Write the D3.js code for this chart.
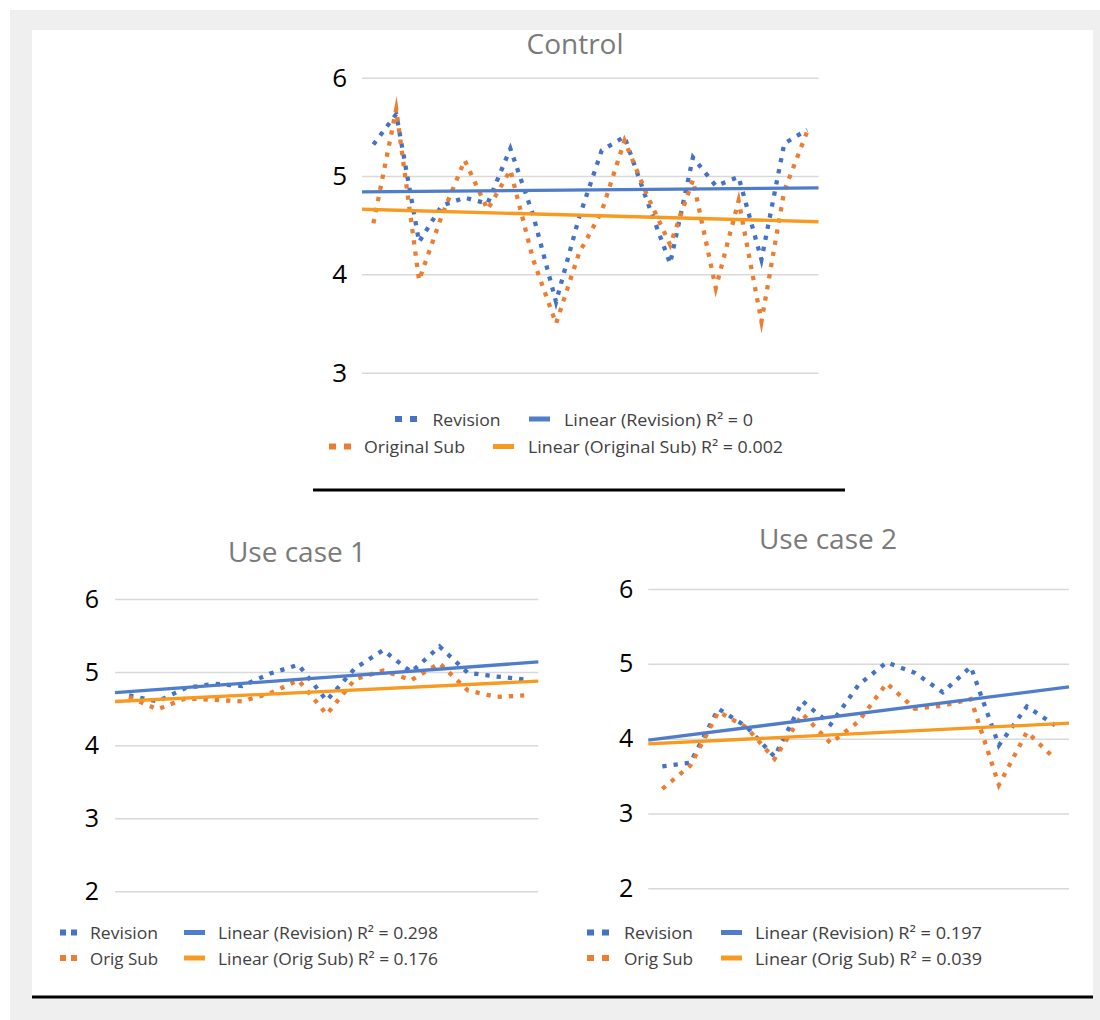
<!DOCTYPE html>
<html><head><meta charset="utf-8">
<script src="https://cdn.jsdelivr.net/npm/d3@7"></script>
<style>
html,body{margin:0;padding:0;background:#fff;}
svg{display:block;}
</style></head><body>
<svg id="c" width="1100" height="1020"></svg>
<script>
// ---- data ----
const controlRevision = [5.32,5.63,4.33,4.70,4.78,4.72,5.28,4.60,3.72,4.57,5.26,5.40,4.74,4.11,5.19,4.90,4.99,4.15,5.33,5.47];
const controlOriginal = [4.52,5.68,3.94,4.60,5.16,4.66,5.06,4.15,3.50,4.21,4.64,5.36,4.80,4.30,4.96,3.86,4.75,3.52,4.85,5.45];
const useCase1Revision = [4.68,4.60,4.78,4.84,4.81,4.98,5.10,4.61,5.05,5.30,5.00,5.35,4.99,4.94,4.90];
const useCase1Original = [4.66,4.49,4.64,4.62,4.60,4.71,4.89,4.42,4.90,5.02,4.89,5.12,4.75,4.66,4.68];
const useCase2Revision = [3.63,3.68,4.40,4.16,3.76,4.50,4.19,4.72,5.02,4.88,4.62,4.96,3.91,4.43,4.18];
const useCase2Original = [3.33,3.64,4.36,4.15,3.73,4.33,3.94,4.23,4.74,4.40,4.44,4.53,3.38,4.09,3.73];
const controlTicks = [3,4,5,6];
const useCaseTicks = [2,3,4,5,6];
const chartTitles = ["Control","Use case 1","Use case 2"];
const controlLegend = ["Revision","Linear (Revision) R² = 0","Original Sub","Linear (Original Sub) R² = 0.002"];
const useCase1Legend = ["Revision","Linear (Revision) R² = 0.298","Orig Sub","Linear (Orig Sub) R² = 0.176"];
const useCase2Legend = ["Revision","Linear (Revision) R² = 0.197","Orig Sub","Linear (Orig Sub) R² = 0.039"];

// ---- styles ----
const BLUE = "#4472C4", ORANGE = "#ED7D31", BLUE_T = "#4F7DC9", ORANGE_T = "#F89A1F";
const FONT = "'Open Sans', sans-serif";

const svg = d3.select("#c");
svg.append("rect").attr("x",10).attr("y",10).attr("width",1090).attr("height",1010).attr("fill","#efefef");
svg.append("rect").attr("x",32).attr("y",30).attr("width",1061).attr("height",967).attr("fill","#fff");

function linReg(vals){
  const xs = d3.range(1, vals.length+1);
  const mx = d3.mean(xs), my = d3.mean(vals);
  let sxy = 0, sxx = 0;
  xs.forEach((x,i)=>{ sxy += (x-mx)*(vals[i]-my); sxx += (x-mx)*(x-mx); });
  const b = sxy/sxx, a = my - b*mx;
  return x => a + b*x;
}

function drawChart(c){
  const n = c.rev.length;
  const x = d3.scaleLinear().domain([0.5, n+0.5]).range([c.x0, c.x1]);
  const y = d3.scaleLinear().domain(c.domain).range([c.yBottom, c.yTop]);
  const g = svg.append("g");

  const axis = d3.axisLeft(y).tickValues(c.ticks).tickFormat(d3.format("d"))
    .tickSize(-(c.x1-c.x0)).tickPadding(c.pad);
  const ax = g.append("g").attr("transform", `translate(${c.x0},0)`).call(axis);
  ax.attr("font-family", FONT).attr("font-size", c.tickFont);
  ax.select(".domain").remove();
  ax.selectAll(".tick line").attr("stroke","#d9d9d9").attr("stroke-width",1.5);
  ax.selectAll(".tick text").attr("fill","#000");

  g.append("text").attr("x", c.titleX).attr("y", c.titleY)
    .attr("text-anchor","middle").attr("dominant-baseline","central")
    .attr("font-family", FONT).attr("font-size", 28).attr("fill","#7a7a7a")
    .text(c.title);

  const line = d3.line().x((d,i)=>x(i+1)).y(d=>y(d));
  [[c.rev, BLUE],[c.orig, ORANGE]].forEach(([vals,col])=>{
    g.append("path").attr("d", line(vals)).attr("fill","none")
      .attr("stroke", col).attr("stroke-width", 4.3)
      .attr("stroke-dasharray","4.3 7").attr("stroke-linejoin","miter")
      .attr("stroke-miterlimit", 10);
  });
  [[c.rev, BLUE_T],[c.orig, ORANGE_T]].forEach(([vals,col])=>{
    const f = linReg(vals);
    const pts = [0.5, n+0.5].map(t => [x(t), y(f(t))]);
    g.append("path").attr("d", d3.line()(pts)).attr("fill","none")
      .attr("stroke", col).attr("stroke-width", 3.3);
  });

  // legend
  const L = c.legend;
  const rows = [[BLUE, BLUE_T, c.labels[0], c.labels[1]], [ORANGE, ORANGE_T, c.labels[2], c.labels[3]]];
  rows.forEach((r, i) => {
    const lay = L.rows[i];
    g.append("line").attr("x1", lay.d0).attr("x2", lay.d1).attr("y1", lay.y).attr("y2", lay.y)
      .attr("stroke", r[0]).attr("stroke-width", 6).attr("stroke-dasharray", lay.dash);
    g.append("text").attr("x", lay.t0).attr("y", lay.y).attr("dominant-baseline","central")
      .attr("font-family", FONT).attr("font-size", 16.5).attr("fill","#404040")
      .attr("textLength", lay.w0).attr("lengthAdjust","spacingAndGlyphs").text(r[2]);
    g.append("line").attr("x1", lay.s0).attr("x2", lay.s0 + 21).attr("y1", lay.y).attr("y2", lay.y)
      .attr("stroke", r[1]).attr("stroke-width", 5);
    g.append("text").attr("x", lay.t1).attr("y", lay.y).attr("dominant-baseline","central")
      .attr("font-family", FONT).attr("font-size", 16.5).attr("fill","#404040")
      .attr("textLength", lay.w1).attr("lengthAdjust","spacingAndGlyphs").text(r[3]);
  });
}

drawChart({
  rev: controlRevision, orig: controlOriginal, domain:[3,6], ticks: controlTicks,
  x0: 362, x1: 818.5, yTop: 77.7, yBottom: 372.7, pad: 15, tickFont: 26,
  title: chartTitles[0], titleX: 575, titleY: 43, labels: controlLegend,
  legend: { rows: [
    {y: 419, d0: 395, d1: 418, dash: "7 8", t0: 432.5, w0: 68, s0: 529, t1: 564, w1: 189},
    {y: 446.5, d0: 329, d1: 352, dash: "7 8", t0: 364, w0: 101, s0: 493, t1: 528, w1: 255}
  ]}
});
drawChart({
  rev: useCase1Revision, orig: useCase1Original, domain:[2,6], ticks: useCaseTicks,
  x0: 115, x1: 538.3, yTop: 599, yBottom: 891.3, pad: 16, tickFont: 25,
  title: chartTitles[1], titleX: 297, titleY: 551, labels: useCase1Legend,
  legend: { rows: [
    {y: 932.5, d0: 60, d1: 77, dash: "6 5", t0: 90, w0: 68, s0: 184, t1: 218, w1: 220},
    {y: 958, d0: 60, d1: 77, dash: "6 5", t0: 90, w0: 68, s0: 184, t1: 218, w1: 220}
  ]}
});
drawChart({
  rev: useCase2Revision, orig: useCase2Original, domain:[2,6], ticks: useCaseTicks,
  x0: 648.3, x1: 1069, yTop: 589, yBottom: 888.3, pad: 15, tickFont: 25,
  title: chartTitles[2], titleX: 828, titleY: 538, labels: useCase2Legend,
  legend: { rows: [
    {y: 932.5, d0: 587, d1: 610, dash: "7 8", t0: 624, w0: 69, s0: 721, t1: 755, w1: 227},
    {y: 958, d0: 587, d1: 610, dash: "7 8", t0: 624, w0: 69, s0: 721, t1: 755, w1: 227}
  ]}
});

// dividers
svg.append("line").attr("x1",313).attr("x2",845).attr("y1",490).attr("y2",490)
  .attr("stroke","#000").attr("stroke-width",3);
svg.append("line").attr("x1",32).attr("x2",1093).attr("y1",997).attr("y2",997)
  .attr("stroke","#000").attr("stroke-width",3);
</script>
</body></html>
